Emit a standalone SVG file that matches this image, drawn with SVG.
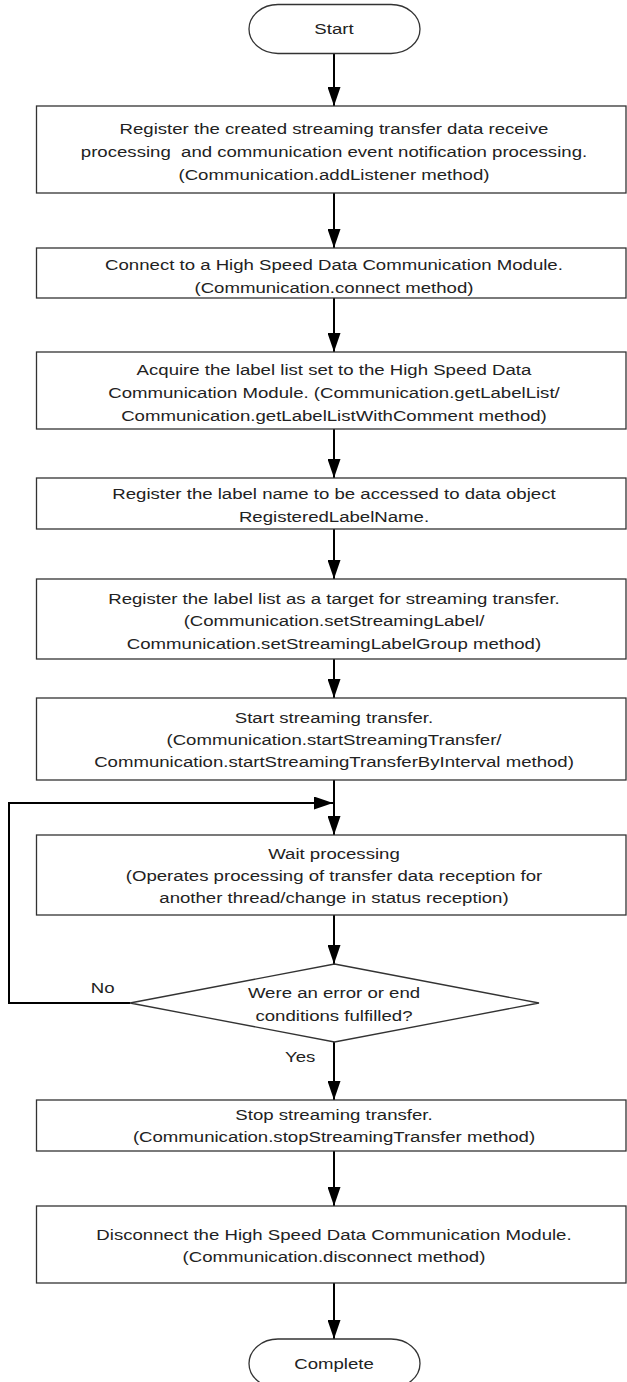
<svg xmlns="http://www.w3.org/2000/svg" width="627" height="1382" viewBox="0 0 627 1382">
<style>
.box{fill:#fff;stroke:#333;stroke-width:1.3}
.t{font-family:"Liberation Sans",Arial,sans-serif;font-size:15.5px;fill:#222;text-anchor:middle}
.ts{font-family:"Liberation Sans",Arial,sans-serif;font-size:15.5px;fill:#222;text-anchor:start}
.c{fill:none;stroke:#000;stroke-width:2}
</style>
<defs>
<marker id="ah" markerUnits="userSpaceOnUse" markerWidth="19" markerHeight="13" refX="19" refY="6.5" orient="auto">
<path d="M0,0 L19,6.5 L0,13 z" fill="#000"/>
</marker>
</defs>
<g id="connectors">
<line class="c" x1="334" y1="54" x2="334" y2="106" marker-end="url(#ah)"/>
<line class="c" x1="334" y1="193" x2="334" y2="248" marker-end="url(#ah)"/>
<line class="c" x1="334" y1="298" x2="334" y2="352" marker-end="url(#ah)"/>
<line class="c" x1="334" y1="429" x2="334" y2="478" marker-end="url(#ah)"/>
<line class="c" x1="334" y1="529" x2="334" y2="579" marker-end="url(#ah)"/>
<line class="c" x1="334" y1="659" x2="334" y2="698" marker-end="url(#ah)"/>
<line class="c" x1="334" y1="780" x2="334" y2="835" marker-end="url(#ah)"/>
<path class="c" d="M130,1003 H9 V803 H333" marker-end="url(#ah)"/>
<line class="c" x1="334" y1="915" x2="334" y2="964" marker-end="url(#ah)"/>
<line class="c" x1="334" y1="1042" x2="334" y2="1100" marker-end="url(#ah)"/>
<line class="c" x1="334" y1="1151" x2="334" y2="1206" marker-end="url(#ah)"/>
<line class="c" x1="334" y1="1283" x2="334" y2="1339" marker-end="url(#ah)"/>
<text class="ts" transform="scale(1.2,1)" x="75.6" y="993">No</text>
<text class="ts" transform="scale(1.2,1)" x="237.5" y="1062">Yes</text>
</g>
<g id="start">
<rect class="box" x="249" y="4.5" width="171" height="49" rx="29" ry="24.5"/>
<text class="t" transform="scale(1.2,1)" x="278.33" y="34">Start</text>
</g>
<g id="step1">
<rect class="box" x="36.5" y="106" width="589.5" height="87"/>
<text class="t" transform="scale(1.2,1)" x="278.33" y="134">Register the created streaming transfer data receive</text>
<text class="t" transform="scale(1.2,1)" x="278.33" y="157" xml:space="preserve">processing  and communication event notification processing.</text>
<text class="t" transform="scale(1.2,1)" x="278.33" y="180">(Communication.addListener method)</text>
</g>
<g id="step2">
<rect class="box" x="36.5" y="248" width="589.5" height="50"/>
<text class="t" transform="scale(1.2,1)" x="278.33" y="270">Connect to a High Speed Data Communication Module.</text>
<text class="t" transform="scale(1.2,1)" x="278.33" y="293">(Communication.connect method)</text>
</g>
<g id="step3">
<rect class="box" x="36.5" y="352" width="589.5" height="77"/>
<text class="t" transform="scale(1.2,1)" x="278.33" y="375">Acquire the label list set to the High Speed Data</text>
<text class="t" transform="scale(1.2,1)" x="278.33" y="398">Communication Module. (Communication.getLabelList/</text>
<text class="t" transform="scale(1.2,1)" x="278.33" y="421">Communication.getLabelListWithComment method)</text>
</g>
<g id="step4">
<rect class="box" x="36.5" y="478" width="589.5" height="51"/>
<text class="t" transform="scale(1.2,1)" x="278.33" y="499.5">Register the label name to be accessed to data object</text>
<text class="t" transform="scale(1.2,1)" x="278.33" y="521.5">RegisteredLabelName.</text>
</g>
<g id="step5">
<rect class="box" x="36.5" y="579" width="589.5" height="80"/>
<text class="t" transform="scale(1.2,1)" x="278.33" y="604">Register the label list as a target for streaming transfer.</text>
<text class="t" transform="scale(1.2,1)" x="278.33" y="626.5">(Communication.setStreamingLabel/</text>
<text class="t" transform="scale(1.2,1)" x="278.33" y="649">Communication.setStreamingLabelGroup method)</text>
</g>
<g id="step6">
<rect class="box" x="36.5" y="698" width="589.5" height="82"/>
<text class="t" transform="scale(1.2,1)" x="278.33" y="723">Start streaming transfer.</text>
<text class="t" transform="scale(1.2,1)" x="278.33" y="745">(Communication.startStreamingTransfer/</text>
<text class="t" transform="scale(1.2,1)" x="278.33" y="767">Communication.startStreamingTransferByInterval method)</text>
</g>
<g id="step7">
<rect class="box" x="36.5" y="835" width="589.5" height="80"/>
<text class="t" transform="scale(1.2,1)" x="278.33" y="859">Wait processing</text>
<text class="t" transform="scale(1.2,1)" x="278.33" y="881">(Operates processing of transfer data reception for</text>
<text class="t" transform="scale(1.2,1)" x="278.33" y="903">another thread/change in status reception)</text>
</g>
<g id="decision">
<polygon class="box" points="334.5,964 539,1003 334.5,1042 130,1003"/>
<text class="t" transform="scale(1.2,1)" x="278.33" y="998">Were an error or end</text>
<text class="t" transform="scale(1.2,1)" x="278.33" y="1021">conditions fulfilled?</text>
</g>
<g id="step8">
<rect class="box" x="36.5" y="1100" width="589.5" height="51"/>
<text class="t" transform="scale(1.2,1)" x="278.33" y="1120">Stop streaming transfer.</text>
<text class="t" transform="scale(1.2,1)" x="278.33" y="1142">(Communication.stopStreamingTransfer method)</text>
</g>
<g id="step9">
<rect class="box" x="36.5" y="1206" width="589.5" height="77"/>
<text class="t" transform="scale(1.2,1)" x="278.33" y="1240">Disconnect the High Speed Data Communication Module.</text>
<text class="t" transform="scale(1.2,1)" x="278.33" y="1262">(Communication.disconnect method)</text>
</g>
<g id="complete">
<rect class="box" x="249" y="1339" width="171" height="49" rx="29" ry="24.5"/>
<text class="t" transform="scale(1.2,1)" x="278.33" y="1369">Complete</text>
</g>
</svg>
